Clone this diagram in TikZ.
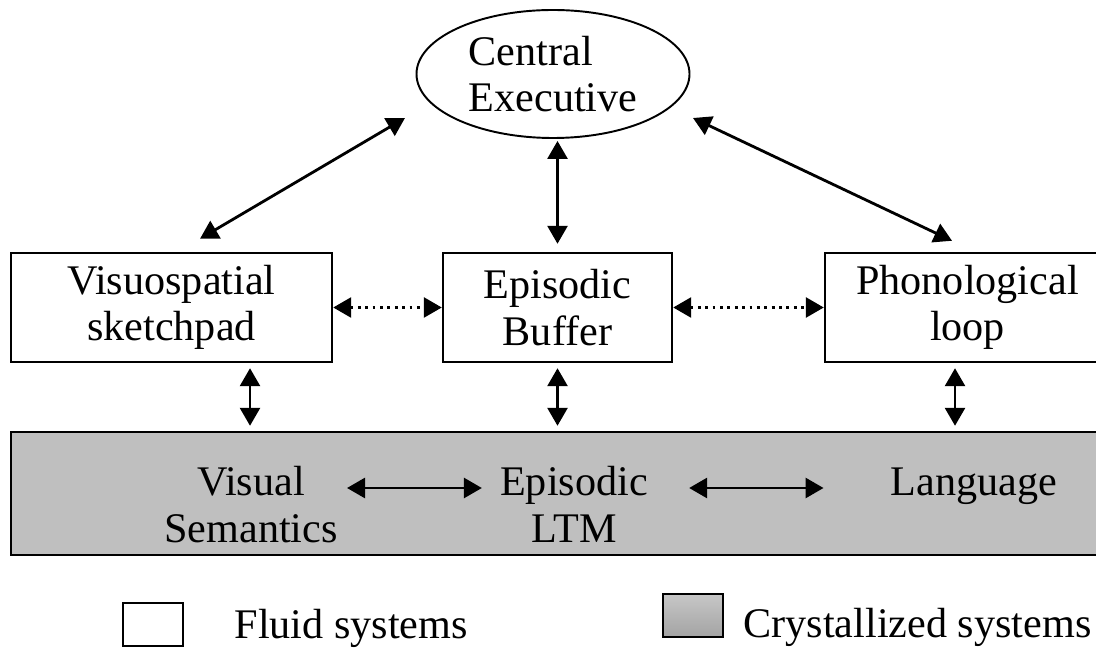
\documentclass[tikz,border=0pt]{standalone}
\usepackage{fontspec}
\setmainfont{Liberation Serif}
\usetikzlibrary{arrows.meta,positioning,shapes.geometric}

\tikzset{link/.style={draw,{Triangle[length=0.36cm,width=0.4cm]}-{Triangle[length=0.36cm,width=0.4cm]},line width=1.6pt}}
\tikzset{linkD/.style={link, dash pattern=on 1.6pt off 2.6pt}}

\begin{document}
\begin{tikzpicture}[
  every node/.style={font=\fontsize{24}{26.5}\selectfont, align=center},
  fluid/.style={draw, line width=1.4pt, fill=white, inner sep=0pt},
  crys/.style={fluid, fill=\colorisC},
  txt/.style={inner sep=0pt},
]
%-------------------------------------------------------------
% Custom colors
\newcommand{\colorisC}{black!25}

\useasboundingbox (0,0) rectangle (21.92,12.96);

%-------------------------------------------------------------
% Main elements
\node[draw, ellipse, align=left, line width=1.1pt, minimum width=5.46cm, minimum height=2.56cm, inner sep=0pt] (ce) at (11.06,11.48) {Central\\Executive};

\node[fluid, minimum width=6.42cm, minimum height=2.18cm] (vis) at (3.43,6.81) {Visuospatial\\sketchpad};
\node[fluid, minimum width=4.58cm, minimum height=2.18cm] (buf) at (11.15,6.81) {Episodic\\Buffer};
\node[fluid, minimum width=5.7cm, minimum height=2.18cm] (phon) at (19.35,6.81) {Phonological\\loop};

\node[crys, minimum width=21.98cm, minimum height=2.46cm] (band) at (11.21,3.09) {};
\node[txt, anchor=base] (vs) at (5.02,2.12) {Visual\\Semantics};
\node[txt, anchor=base] (ltm) at (11.48,2.12) {Episodic\\LTM};
\node[txt, anchor=base] (lang) at (19.48,3.06) {Language};

%-------------------------------------------------------------
% Legend
\node[fluid, minimum width=1.2cm, minimum height=0.86cm] (lf) at (3.06,0.47) {};
\node[txt, anchor=base west] (tf) at ([shift={(1.0,-0.27)}]lf.east) {Fluid systems};
\node[fluid, top color=black!22, bottom color=black!36, minimum width=1.2cm, minimum height=0.86cm] (lc) at (13.86,0.65) {};
\node[txt, anchor=base west] (tc) at ([shift={(0.38,-0.43)}]lc.east) {Crystallized systems};

%-------------------------------------------------------------
% Links
\draw[link] ([shift={(0.57,0.26)}]vis.north) -- ([shift={(-2.96,-0.88)}]ce.center);
\draw[link, shorten <=0.04cm] (buf.north |- ce.south) -- ([yshift=0.16cm]buf.north);
\draw[link] ([shift={(2.8,-0.88)}]ce.center) -- ([shift={(-0.31,0.22)}]phon.north);

\draw[linkD] (vis.east) -- (buf.west);
\draw[linkD] (buf.east) -- (phon.west);

\draw[link, shorten <=0.1cm, shorten >=0.1cm] ([xshift=1.57cm]vis.south) -- ([xshift=1.57cm]vis.south |- band.north);
\draw[link, shorten <=0.1cm, shorten >=0.1cm] (buf.south) -- (buf.south |- band.north);
\draw[link, shorten <=0.1cm, shorten >=0.1cm] ([xshift=-0.25cm]phon.south) -- ([xshift=-0.25cm]phon.south |- band.north);

\draw[link] ([shift={(0.18,1.08)}]vs.base east) -- ([shift={(-0.36,1.08)}]ltm.base west);
\draw[link] ([shift={(0.82,1.08)}]ltm.base east) -- ([shift={(-1.34,0.14)}]lang.base west);

\end{tikzpicture}
\end{document}
